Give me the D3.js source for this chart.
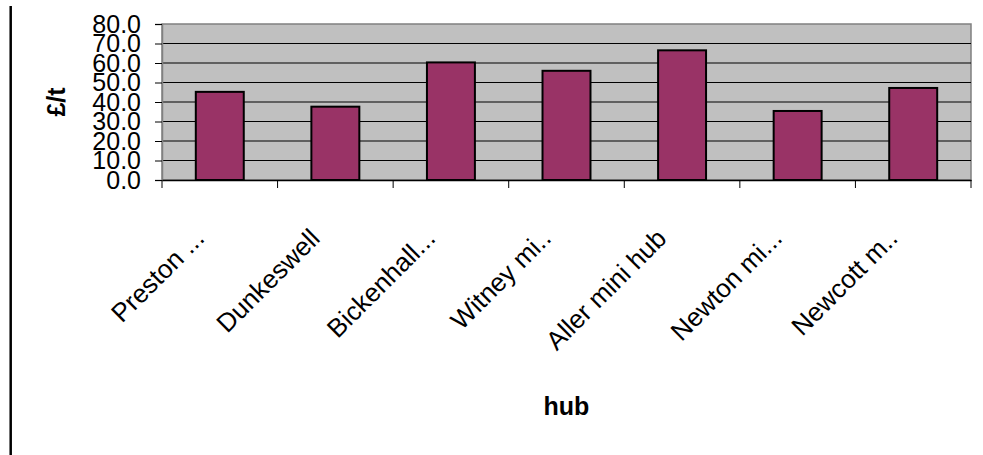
<!DOCTYPE html>
<html>
<head>
<meta charset="utf-8">
<script src="https://cdn.jsdelivr.net/npm/d3@7"></script>
<style>
  html, body { margin: 0; padding: 0; background: #ffffff; }
  svg { display: block; }
  text { font-family: "Liberation Sans", Arial, sans-serif; fill: #000; }
</style>
</head>
<body>
<svg id="chart" width="983" height="455"></svg>
<script>
// Hub names as shown on the category axis (long names are cut short)
const hubs = ["Preston ...", "Dunkeswell", "Bickenhall...", "Witney mi..", "Aller mini hub", "Newton mi...", "Newcott m.."];
// Cost per tonne for each hub (£/t)
const costPerTonne = [45.2, 37.6, 60.3, 56.0, 66.5, 35.4, 47.2];
// Value-axis ticks
const yTicks = [0, 10, 20, 30, 40, 50, 60, 70, 80];

const svg = d3.select("#chart");
const plot = { left: 162, right: 971, top: 24, bottom: 180 };

const x = d3.scaleBand().domain(hubs).range([plot.left, plot.right]).padding(0);
const y = d3.scaleLinear().domain([0, 80]).range([plot.bottom, plot.top]);

// Left rule beside the chart
svg.append("line")
  .attr("x1", 10.7).attr("x2", 10.7).attr("y1", 6).attr("y2", 455)
  .attr("stroke", "#000").attr("stroke-width", 2.5);

// Plot background
svg.append("rect")
  .attr("x", plot.left).attr("y", plot.top)
  .attr("width", plot.right - plot.left).attr("height", plot.bottom - plot.top)
  .attr("fill", "#c0c0c0").attr("stroke", "#808080").attr("stroke-width", 1.5);

// Horizontal gridlines
svg.append("g").selectAll("line")
  .data(yTicks.filter(d => d > 0 && d < 80))
  .join("line")
  .attr("x1", plot.left).attr("x2", plot.right)
  .attr("y1", d => y(d)).attr("y2", d => y(d))
  .attr("stroke", "#000").attr("stroke-width", 1);

// Bars
const barFrac = 0.415;
svg.append("g").selectAll("rect")
  .data(hubs.map((h, i) => ({ h, v: costPerTonne[i] })))
  .join("rect")
  .attr("x", d => x(d.h) + x.bandwidth() * (1 - barFrac) / 2)
  .attr("width", x.bandwidth() * barFrac)
  .attr("y", d => y(d.v))
  .attr("height", d => y(0) - y(d.v))
  .attr("fill", "#993366")
  .attr("stroke", "#000").attr("stroke-width", 2);

// Value axis
const yAxis = svg.append("g")
  .attr("transform", `translate(${plot.left},0)`)
  .call(d3.axisLeft(y).tickValues(yTicks).tickFormat(d3.format(".1f")).tickSizeOuter(0).tickSize(7).tickPadding(14));
yAxis.select(".domain").attr("stroke", "#808080").attr("stroke-width", 1.5);
yAxis.selectAll(".tick line").attr("stroke", "#000");
yAxis.selectAll(".tick text")
  .attr("font-size", 25)
  .attr("font-family", "Liberation Sans, Arial, sans-serif")
  .attr("fill", "#000");

// Category axis
const xAxis = svg.append("g")
  .attr("transform", `translate(0,${plot.bottom})`)
  .call(d3.axisBottom(x).tickSize(0).tickFormat(""));
xAxis.select(".domain").attr("stroke", "#000").attr("stroke-width", 1.5);
xAxis.selectAll(".tick").remove();

// Category boundary ticks
const bounds = hubs.map(h => x(h)).concat([x(hubs[hubs.length - 1]) + x.bandwidth()]);
svg.append("g").selectAll("line")
  .data(bounds)
  .join("line")
  .attr("x1", d => d).attr("x2", d => d)
  .attr("y1", plot.bottom).attr("y2", plot.bottom + 8)
  .attr("stroke", "#000").attr("stroke-width", 1);

// Rotated category labels
svg.append("g").selectAll("text")
  .data(hubs)
  .join("text")
  .attr("transform", d => `translate(${x(d) + x.bandwidth() / 2 - 14},${plot.bottom + 60}) rotate(-45)`)
  .attr("text-anchor", "end")
  .attr("font-size", 26)
  .text(d => d);

// Axis titles
svg.append("text")
  .attr("x", (plot.left + plot.right) / 2).attr("y", 415)
  .attr("text-anchor", "middle")
  .attr("font-size", 25).attr("font-weight", "bold")
  .text("hub");

svg.append("text")
  .attr("transform", `translate(65,${(plot.top + plot.bottom) / 2}) rotate(-90)`)
  .attr("text-anchor", "middle")
  .attr("font-size", 25).attr("font-weight", "bold")
  .text("£/t");
</script>
</body>
</html>
